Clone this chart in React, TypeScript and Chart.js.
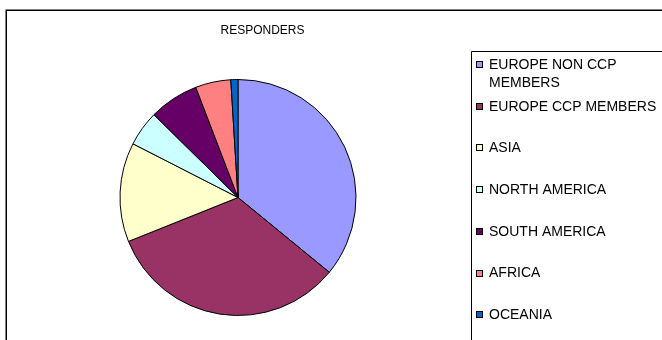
import React, { useEffect, useRef } from "react";
import { Chart, registerables } from "chart.js";

Chart.register(...registerables);

const TITLE = "RESPONDERS";
const categories = [
  "EUROPE NON CCP MEMBERS",
  "EUROPE CCP MEMBERS",
  "ASIA",
  "NORTH AMERICA",
  "SOUTH AMERICA",
  "AFRICA",
  "OCEANIA",
];
const responders = [37, 34, 14, 5, 7, 5, 1];
const sliceColors = ["#9999FF", "#993366", "#FFFFCC", "#CCFFFF", "#660066", "#FF8080", "#0066CC"];

const FONT = "Liberation Sans, Arial, sans-serif";

const framePlugin = {
  id: "excelFrame",
  beforeDraw(chart: any) {
    const ctx = chart.ctx;
    ctx.save();
    ctx.fillStyle = "#ffffff";
    ctx.fillRect(0, 0, chart.width, chart.height);
    ctx.strokeStyle = "#000000";
    ctx.lineWidth = 1.5;
    ctx.beginPath();
    ctx.moveTo(6.25, chart.height + 2);
    ctx.lineTo(6.25, 10.25);
    ctx.lineTo(chart.width + 2, 10.25);
    ctx.stroke();
    ctx.restore();
  },
  afterDraw(chart: any) {
    const ctx = chart.ctx;
    ctx.save();
    // title
    ctx.fillStyle = "#000000";
    ctx.font = `12px ${FONT}`;
    ctx.textAlign = "center";
    ctx.textBaseline = "middle";
    ctx.fillText(TITLE, 262.5, 31);

    // legend box
    ctx.strokeStyle = "#000000";
    ctx.lineWidth = 1;
    ctx.beginPath();
    ctx.moveTo(471.5, chart.height + 2);
    ctx.lineTo(471.5, 51.5);
    ctx.lineTo(chart.width + 2, 51.5);
    ctx.stroke();

    // legend items
    ctx.font = `14px ${FONT}`;
    ctx.textAlign = "left";
    const textX = 489;
    const maxW = chart.width - textX - 1;
    const labels: string[] = chart.data.labels;
    const colors: string[] = chart.data.datasets[0].backgroundColor;
    labels.forEach((label, i) => {
      const y = 64 + i * 41.7;
      const words = label.split(" ");
      const lines: string[] = [];
      let cur = "";
      words.forEach((w) => {
        const t = cur ? cur + " " + w : w;
        if (ctx.measureText(t).width > maxW && cur) {
          lines.push(cur);
          cur = w;
        } else cur = t;
      });
      if (cur) lines.push(cur);
      const my = Math.round(y) - 2.5;
      ctx.fillStyle = colors[i];
      ctx.fillRect(476.5, my, 6, 6);
      ctx.strokeStyle = "#000000";
      ctx.lineWidth = 1;
      ctx.strokeRect(476.5, my, 6, 6);
      ctx.fillStyle = "#000000";
      lines.forEach((ln, j) => {
        ctx.fillText(ln, textX, y + 1 + j * 18);
      });
    });
    ctx.restore();
  },
};

export default function App() {
  const ref = useRef<HTMLCanvasElement | null>(null);
  useEffect(() => {
    if (!ref.current) return;
    const chart = new Chart(ref.current, {
      type: "pie",
      data: {
        labels: categories,
        datasets: [
          {
            data: responders,
            backgroundColor: sliceColors,
            borderColor: "#000000",
            borderWidth: 1,
          },
        ],
      },
      options: {
        responsive: false,
        animation: false,
        events: [],
        layout: { padding: { left: 119.5, right: 305.5, top: 79, bottom: 24 } },
        plugins: {
          legend: { display: false },
          title: { display: false },
          tooltip: { enabled: false },
        },
      },
      plugins: [framePlugin],
    });
    return () => chart.destroy();
  }, []);
  return (
    <div style={{ position: "fixed", left: 0, top: 0, width: 662, height: 340, background: "#fff" }}>
      <canvas ref={ref} width={662} height={340} style={{ display: "block" }} />
    </div>
  );
}
